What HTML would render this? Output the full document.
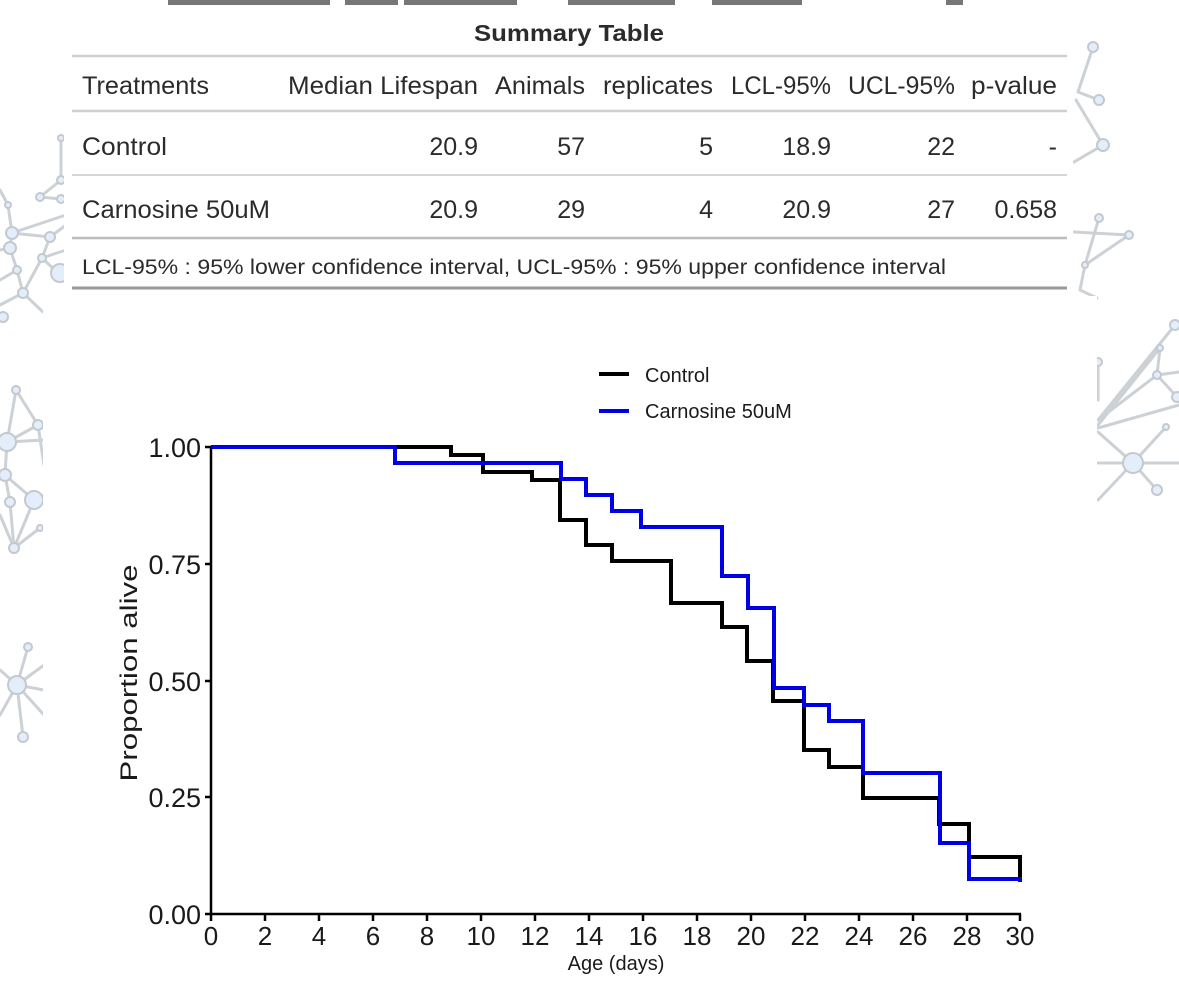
<!DOCTYPE html>
<html><head><meta charset="utf-8"><style>
html,body{margin:0;padding:0;background:#fff;}
svg{display:block;}
text{font-family:"Liberation Sans",Arial,sans-serif;}
</style></head><body>
<svg width="1179" height="993" viewBox="0 0 1179 993" xmlns="http://www.w3.org/2000/svg">
<rect x="0" y="0" width="1179" height="993" fill="#fff"/>
<!-- decorations -->
<g stroke="#c7ccd2" stroke-width="3" fill="none" stroke-linecap="round" opacity="0.9">
  <path d="M61,138 L61,180 M40,197 L61,180 M40,197 L61,199 M0,190 L8,205 M8,205 L12,233 M12,233 L50,237 M12,233 L10,248 M10,248 L17,270 M17,270 L23,293 M50,237 L42,258 M42,258 L23,293 M50,237 L66,225 M42,258 L58,273 M23,293 L43,312 M0,305 L23,293 M0,250 L10,248 M12,233 L66,215 M17,270 L0,280 M42,258 L66,250"/>
  <g transform="translate(0,15)">
  <path d="M16,375 L38,410 M16,375 L7,427 M38,410 L7,427 M7,427 L5,460 M5,460 L34,485 M5,460 L10,487 M38,410 L44,450 M34,485 L14,533 M10,487 L14,533 M40,513 L14,533 M0,500 L14,533 M7,427 L44,425 M34,485 L44,480"/>
  </g>
  <g transform="translate(0,25)">
  <path d="M17,660 L28,622 M17,660 L23,712 M17,660 L44,640 M17,660 L44,665 M17,660 L0,690 M17,660 L44,690 M0,645 L17,660"/>
  </g>
  <path d="M1093,47 L1078,92 M1078,92 L1099,100 M1076,100 L1103,145 M1074,162 L1103,145 M1099,218 L1085,265 M1074,232 L1129,235 M1085,265 L1129,235 M1085,265 L1080,290 M1080,290 L1097,298"/>
  <path d="M1098,420 L1175,325 M1098,425 L1160,348 M1160,348 L1157,375 M1098,420 L1157,375 M1157,375 L1177,397 M1157,375 L1179,372 M1098,428 L1179,405 M1098,432 L1133,463 M1133,463 L1166,427 M1133,463 L1157,490 M1098,463 L1179,463 M1133,463 L1098,500 M1098,362 L1098,400"/>
</g>
<g fill="#e4eefa" stroke="#c3c9cf" stroke-width="2">
  <circle cx="61" cy="138" r="3"/><circle cx="61" cy="180" r="4"/><circle cx="40" cy="197" r="4"/><circle cx="61" cy="199" r="4"/>
  <circle cx="8" cy="205" r="3"/><circle cx="12" cy="233" r="6"/><circle cx="10" cy="248" r="6"/><circle cx="50" cy="237" r="5"/>
  <circle cx="42" cy="258" r="4"/><circle cx="17" cy="270" r="4"/><circle cx="60" cy="273" r="9"/><circle cx="23" cy="293" r="5"/><circle cx="3" cy="317" r="5"/>
  <g transform="translate(0,15)">
  <circle cx="16" cy="375" r="4"/><circle cx="38" cy="410" r="5"/><circle cx="7" cy="427" r="9"/><circle cx="5" cy="460" r="6"/>
  <circle cx="34" cy="485" r="9"/><circle cx="10" cy="487" r="5"/><circle cx="14" cy="533" r="5"/><circle cx="40" cy="513" r="3"/>
  </g>
  <g transform="translate(0,25)">
  <circle cx="17" cy="660" r="9"/><circle cx="28" cy="622" r="4"/><circle cx="23" cy="712" r="5"/>
  </g>
  <circle cx="1093" cy="47" r="5"/><circle cx="1099" cy="100" r="5"/><circle cx="1103" cy="145" r="6"/>
  <circle cx="1099" cy="218" r="4"/><circle cx="1129" cy="235" r="4"/><circle cx="1085" cy="265" r="3"/>
  <circle cx="1175" cy="325" r="5"/><circle cx="1160" cy="348" r="3"/><circle cx="1157" cy="375" r="4"/><circle cx="1177" cy="397" r="5"/>
  <circle cx="1166" cy="427" r="3"/><circle cx="1133" cy="463" r="10"/><circle cx="1157" cy="490" r="5"/><circle cx="1098" cy="362" r="4"/>
</g>
<!-- white panels -->
<rect x="64" y="0" width="1009" height="300" fill="#fff"/>
<rect x="43" y="296" width="1054" height="697" fill="#fff"/>
<!-- top partial text fragments -->
<g fill="#777">
  <rect x="168" y="0" width="162" height="5"/><rect x="345" y="0" width="53" height="5"/><rect x="404" y="0" width="113" height="5"/>
  <rect x="568" y="0" width="107" height="5"/><rect x="712" y="0" width="90" height="5"/><rect x="946" y="0" width="17" height="5"/>
</g>
<!-- table -->
<text x="569" y="41" font-size="23" font-weight="bold" fill="#2b2b2b" text-anchor="middle" textLength="190" lengthAdjust="spacingAndGlyphs">Summary Table</text>
<g stroke-width="2.5">
  <line x1="72" y1="56" x2="1067" y2="56" stroke="#cfcfcf"/>
  <line x1="72" y1="111" x2="1067" y2="111" stroke="#cfcfcf"/>
  <line x1="72" y1="175" x2="1067" y2="175" stroke="#d6d6d6" stroke-width="2"/>
  <line x1="72" y1="238" x2="1067" y2="238" stroke="#bdbdbd"/>
  <line x1="72" y1="288" x2="1067" y2="288" stroke="#9a9a9a" stroke-width="3"/>
</g>
<g font-size="25" fill="#2b2b2b">
  <text x="82" y="94" textLength="127" lengthAdjust="spacingAndGlyphs">Treatments</text>
  <text x="288" y="94" textLength="190" lengthAdjust="spacingAndGlyphs">Median Lifespan</text>
  <text x="495" y="94" textLength="90" lengthAdjust="spacingAndGlyphs">Animals</text>
  <text x="603" y="94" textLength="110" lengthAdjust="spacingAndGlyphs">replicates</text>
  <text x="731" y="94" textLength="100" lengthAdjust="spacingAndGlyphs">LCL-95%</text>
  <text x="848" y="94" textLength="107" lengthAdjust="spacingAndGlyphs">UCL-95%</text>
  <text x="971" y="94" textLength="86" lengthAdjust="spacingAndGlyphs">p-value</text>

  <text x="82" y="155" textLength="85" lengthAdjust="spacingAndGlyphs">Control</text>
  <text x="478" y="155" text-anchor="end">20.9</text>
  <text x="585" y="155" text-anchor="end">57</text>
  <text x="713" y="155" text-anchor="end">5</text>
  <text x="831" y="155" text-anchor="end">18.9</text>
  <text x="955" y="155" text-anchor="end">22</text>
  <text x="1057" y="155" text-anchor="end">-</text>

  <text x="82" y="218" textLength="188" lengthAdjust="spacingAndGlyphs">Carnosine 50uM</text>
  <text x="478" y="218" text-anchor="end">20.9</text>
  <text x="585" y="218" text-anchor="end">29</text>
  <text x="713" y="218" text-anchor="end">4</text>
  <text x="831" y="218" text-anchor="end">20.9</text>
  <text x="955" y="218" text-anchor="end">27</text>
  <text x="1057" y="218" text-anchor="end">0.658</text>
</g>
<text x="82" y="274" font-size="21" fill="#2b2b2b" textLength="864" lengthAdjust="spacingAndGlyphs">LCL-95% : 95% lower confidence interval, UCL-95% : 95% upper confidence interval</text>

<!-- legend -->
<line x1="599" y1="374" x2="629" y2="374" stroke="#000" stroke-width="4"/>
<text x="645" y="382" font-size="20" fill="#1a1a1a">Control</text>
<line x1="599" y1="411" x2="629" y2="411" stroke="#0000e6" stroke-width="4"/>
<text x="645" y="418" font-size="20" fill="#1a1a1a">Carnosine 50uM</text>

<!-- axes -->
<g stroke="#000" stroke-width="2.5" fill="none">
  <line x1="211" y1="446" x2="211" y2="915"/>
  <line x1="210" y1="914" x2="1021" y2="914"/>
  <path d="M205,447 H211 M205,564 H211 M205,681 H211 M205,797 H211 M205,914 H211"/>
  <path d="M211,914 V921 M265,914 V921 M319,914 V921 M373,914 V921 M427,914 V921 M481,914 V921 M535,914 V921 M589,914 V921 M643,914 V921 M697,914 V921 M751,914 V921 M805,914 V921 M859,914 V921 M913,914 V921 M967,914 V921 M1020,914 V921"/>
</g>
<g font-size="27" fill="#1a1a1a" text-anchor="end">
  <text x="201" y="457">1.00</text>
  <text x="201" y="574">0.75</text>
  <text x="201" y="691">0.50</text>
  <text x="201" y="807">0.25</text>
  <text x="201" y="924">0.00</text>
</g>
<g font-size="26" fill="#1a1a1a" text-anchor="middle">
  <text x="211" y="945">0</text><text x="265" y="945">2</text><text x="319" y="945">4</text><text x="373" y="945">6</text>
  <text x="427" y="945">8</text><text x="481" y="945">10</text><text x="535" y="945">12</text><text x="589" y="945">14</text>
  <text x="643" y="945">16</text><text x="697" y="945">18</text><text x="751" y="945">20</text><text x="805" y="945">22</text>
  <text x="859" y="945">24</text><text x="913" y="945">26</text><text x="967" y="945">28</text><text x="1020" y="945">30</text>
</g>
<text x="616" y="970" font-size="20" fill="#1a1a1a" text-anchor="middle">Age (days)</text>
<text transform="translate(137,673) rotate(-90)" x="0" y="0" font-size="24" fill="#1a1a1a" text-anchor="middle" textLength="217" lengthAdjust="spacingAndGlyphs">Proportion alive</text>

<!-- series -->
<path d="M211,447 H451 V455 H483 V472 H532 V480 H560 V520 H586 V545 H612 V561 H671 V603 H722 V627 H747 V661 H773 V701 H804 V750 H829 V767 H863 V798 H939 V824 H969 V857 H1020 V881" fill="none" stroke="#000" stroke-width="4" stroke-linejoin="miter"/>
<path d="M211,447 H395 V463 H561 V479 H586 V495 H612 V511 H641 V527 H722 V576 H748 V608 H774 V688 H804 V705 H829 V721 H863 V773 H940 V843 H969 V879 H1020 V882" fill="none" stroke="#0000e6" stroke-width="4" stroke-linejoin="miter"/>
</svg>
</body></html>
